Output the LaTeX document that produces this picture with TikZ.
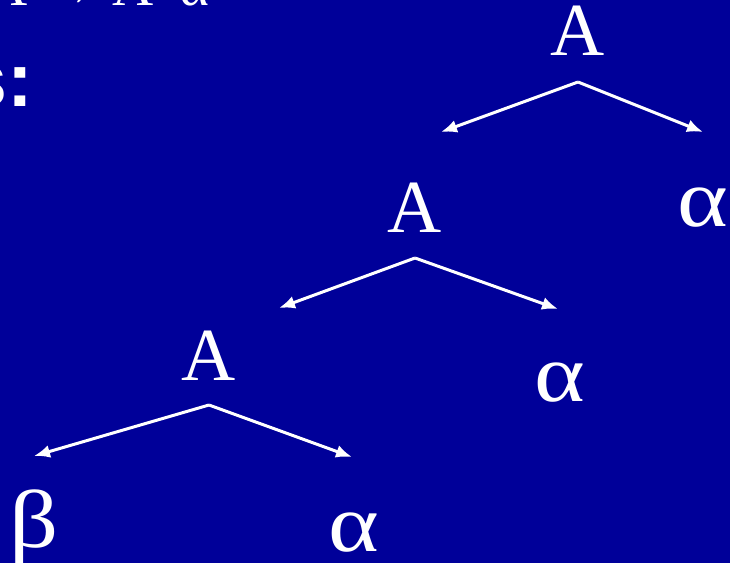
\documentclass[tikz,border=0pt]{standalone}
\usepackage{fontspec}
\setmainfont{Liberation Serif}
\newfontfamily\headfont{Liberation Sans}
\usetikzlibrary{arrows.meta}
\definecolor{slideblue}{RGB}{0,0,153}
\tikzset{
  sym/.style={text=white, inner sep=0pt, outer sep=0pt, anchor=base, font=\fontsize{75}{80}\selectfont},
  greek/.style={sym, xscale=1.18, font=\fontsize{82}{86}\selectfont},
  arr/.style={draw=white, line width=3pt, -{Latex[length=16pt,width=13pt]}}
}
\begin{document}
\begin{tikzpicture}[x=1pt,y=-1pt]
\fill[slideblue] (0,0) rectangle (730,563);
\useasboundingbox (0,0) rectangle (730,563);
\clip (0,0) rectangle (730,563);
% slide text, cut by the frame
\node[text=white, inner sep=0pt, anchor=base west, font=\fontsize{57}{60}\selectfont] (rule) at (-14,5) {A → A\hspace{0.45em}α};
\node[text=white, inner sep=0pt, anchor=base east, font=\headfont\bfseries\fontsize{77}{80}\selectfont] (head) at (33,106) {s:};
% tree
\node[sym] (a1) at (578,55) {A};
\node[greek] (al1) at (703,226) {α};
\node[sym] (a2) at (415,232) {A};
\node[greek] (al2) at (560,401) {α};
\node[sym] (a3) at (209,380) {A};
\node[greek] (al3) at (354,551) {α};
\node[greek] (b) at (34,547) {β};
\coordinate (e1l) at (441,132);
\coordinate (e1r) at (703,132);
\coordinate (e2l) at (279,308);
\coordinate (e2r) at (558,309);
\coordinate (e3l) at (34,456);
\coordinate (e3r) at (352,457);
\draw[arr] ([yshift=-27pt]a1.base) -- (e1l);
\draw[arr] ([yshift=-27pt]a1.base) -- (e1r);
\draw[arr] ([yshift=-26pt]a2.base) -- (e2l);
\draw[arr] ([yshift=-26pt]a2.base) -- (e2r);
\draw[arr] ([yshift=-25pt]a3.base) -- (e3l);
\draw[arr] ([yshift=-25pt]a3.base) -- (e3r);
\end{tikzpicture}
\end{document}
